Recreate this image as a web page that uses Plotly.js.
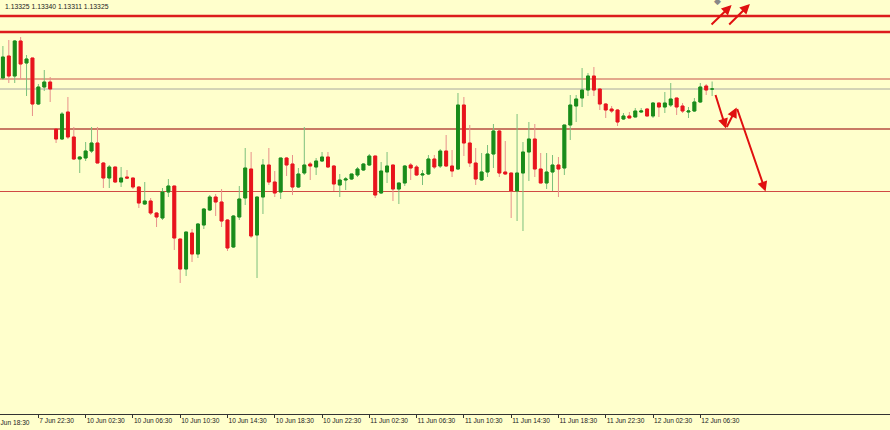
<!DOCTYPE html>
<html><head><meta charset="utf-8">
<script src="https://cdn.plot.ly/plotly-3.0.1.min.js"></script>
<style>html,body{margin:0;padding:0;background:#ffffcc;}#chart{width:890px;height:430px;}</style>
</head><body><div id="chart"></div>
<script>
// EURUSD M30 — prices
const opens = [1.13347,1.13391,1.13351,1.13421,1.13377,1.13387,1.13295,1.13329,1.13339,1.13245,
1.13225,1.13279,1.13229,1.13185,1.13187,1.13201,1.13217,1.13177,1.13147,1.13169,
1.13139,1.13149,1.13147,1.13129,1.13095,1.13101,1.13077,1.13067,1.13119,1.13131,
1.13025,1.12965,1.13037,1.12995,1.13053,1.13083,1.13109,1.13099,1.13063,1.13009,
1.13069,1.13107,1.13165,1.13033,1.13109,1.13173,1.13139,1.13119,1.13187,1.13175,
1.13129,1.13157,1.13175,1.13169,1.13181,1.13189,1.13171,1.13133,1.13143,1.13145,
1.13153,1.13163,1.13173,1.13191,1.13117,1.13159,1.13173,1.13125,1.13137,1.13173,
1.13169,1.13153,1.13155,1.13185,1.13171,1.13201,1.13171,1.13165,1.13293,1.13217,
1.13177,1.13143,1.13159,1.13195,1.13241,1.13159,1.13157,1.13121,1.13157,1.13199,
1.13225,1.13165,1.13137,1.13159,1.13173,1.13167,1.13253,1.13291,1.13307,1.13323,
1.13351,1.13325,1.13295,1.13285,1.13283,1.13265,1.13271,1.13269,1.13279,1.13285,
1.13271,1.13297,1.13289,1.13293,1.13307,1.13291,1.13279,1.13281,1.13299,1.13331,
1.13325];
const highs = [1.13411,1.13423,1.13423,1.13429,1.13393,1.13387,1.13335,1.13363,1.13349,1.13245,
1.13279,1.13309,1.13249,1.13191,1.13219,1.13249,1.13249,1.13179,1.13173,1.13169,
1.13169,1.13163,1.13147,1.13131,1.13139,1.13107,1.13079,1.13127,1.13145,1.13131,
1.13025,1.13039,1.13045,1.13057,1.13087,1.13113,1.13115,1.13125,1.13065,1.13073,
1.13131,1.13207,1.13199,1.13109,1.13185,1.13207,1.13161,1.13187,1.13189,1.13193,
1.13167,1.13249,1.13179,1.13187,1.13199,1.13199,1.13173,1.13155,1.13149,1.13155,
1.13169,1.13177,1.13195,1.13191,1.13179,1.13199,1.13173,1.13137,1.13173,1.13177,
1.13173,1.13163,1.13193,1.13193,1.13205,1.13233,1.13203,1.13317,1.13309,1.13253,
1.13207,1.13197,1.13213,1.13255,1.13243,1.13221,1.13157,1.13275,1.13219,1.13259,
1.13255,1.13197,1.13197,1.13193,1.13189,1.13253,1.13313,1.13313,1.13367,1.13357,
1.13369,1.13325,1.13297,1.13291,1.13285,1.13277,1.13279,1.13287,1.13287,1.13287,
1.13299,1.13297,1.13319,1.13337,1.13307,1.13297,1.13289,1.13307,1.13337,1.13335,
1.13340];
const lows = [1.13343,1.13337,1.13337,1.13345,1.13311,1.13271,1.13293,1.13321,1.13299,1.13217,
1.13223,1.13225,1.13183,1.13157,1.13181,1.13197,1.13177,1.13127,1.13127,1.13137,
1.13129,1.13145,1.13125,1.13087,1.13093,1.13073,1.13049,1.13063,1.13109,1.13003,
1.12937,1.12951,1.12979,1.12987,1.13045,1.13081,1.13071,1.13049,1.13001,1.13007,
1.13063,1.13093,1.13027,1.12947,1.13075,1.13133,1.13109,1.13105,1.13151,1.13113,
1.13127,1.13153,1.13143,1.13153,1.13179,1.13167,1.13121,1.13109,1.13123,1.13143,
1.13149,1.13161,1.13171,1.13107,1.13115,1.13137,1.13101,1.13095,1.13131,1.13143,
1.13151,1.13133,1.13153,1.13165,1.13167,1.13169,1.13149,1.13163,1.13191,1.13169,
1.13133,1.13141,1.13149,1.13167,1.13149,1.13153,1.13067,1.13061,1.13041,1.13141,
1.13149,1.13137,1.13125,1.13121,1.13109,1.13153,1.13223,1.13259,1.13289,1.13311,
1.13311,1.13283,1.13267,1.13277,1.13251,1.13263,1.13267,1.13269,1.13277,1.13271,
1.13267,1.13269,1.13277,1.13289,1.13273,1.13277,1.13267,1.13279,1.13297,1.13313,
1.13311];
const closes = [1.13389,1.13351,1.13421,1.13375,1.13385,1.13295,1.13329,1.13339,1.13325,1.13225,
1.13275,1.13229,1.13185,1.13189,1.13201,1.13217,1.13177,1.13147,1.13169,1.13139,
1.13147,1.13147,1.13129,1.13097,1.13101,1.13077,1.13069,1.13119,1.13131,1.13027,
1.12965,1.13039,1.12995,1.13055,1.13085,1.13109,1.13099,1.13061,1.13007,1.13071,
1.13105,1.13167,1.13031,1.13109,1.13173,1.13139,1.13117,1.13187,1.13173,1.13129,
1.13155,1.13173,1.13171,1.13181,1.13189,1.13169,1.13135,1.13143,1.13145,1.13155,
1.13165,1.13175,1.13191,1.13113,1.13161,1.13171,1.13125,1.13137,1.13171,1.13167,
1.13153,1.13155,1.13185,1.13169,1.13201,1.13171,1.13161,1.13293,1.13217,1.13177,
1.13145,1.13159,1.13195,1.13241,1.13157,1.13155,1.13121,1.13157,1.13199,1.13225,
1.13165,1.13137,1.13159,1.13173,1.13165,1.13253,1.13293,1.13305,1.13323,1.13351,
1.13323,1.13295,1.13283,1.13281,1.13259,1.13271,1.13267,1.13281,1.13281,1.13271,
1.13297,1.13289,1.13297,1.13305,1.13289,1.13281,1.13281,1.13299,1.13329,1.13323,
1.13325];

const tickLabels = ["7 Jun 22:30","10 Jun 02:30","10 Jun 06:30","10 Jun 10:30","10 Jun 14:30",
"10 Jun 18:30","10 Jun 22:30","11 Jun 02:30","11 Jun 06:30","11 Jun 10:30","11 Jun 14:30",
"11 Jun 18:30","11 Jun 22:30","12 Jun 02:30","12 Jun 06:30"];
const firstLabel = "7 Jun 18:30";

// horizontal levels drawn on the chart
const levelPrices = [1.13471, 1.13439, 1.13345, 1.13245, 1.13120];
const bidPrice = closes[closes.length - 1];

// bar times: Friday 7 Jun 19:30 .. 23:30, then Monday 10 Jun 00:00 onward (30-minute bars)
function barTime(i) {
  let d, mins;
  if (i <= 8) { d = 7; mins = 19 * 60 + 30 + 30 * i; }
  else { d = 10; mins = 30 * (i - 9); }
  d += Math.floor(mins / 1440); mins = mins % 1440;
  const hh = String(Math.floor(mins / 60)).padStart(2, '0');
  const mm = String(mins % 60).padStart(2, '0');
  return d + ' Jun ' + hh + ':' + mm;
}
const times = opens.map((_, i) => barTime(i));
const bodyHi = opens.map((o, i) => Math.max(o, closes[i]));
const bodyLo = opens.map((o, i) => Math.min(o, closes[i]));

const BG = '#ffffcc';
const FONT = 'Liberation Sans, Arial, sans-serif';
const wicks = {
  type: 'candlestick', x: times, open: opens, high: highs, low: lows, close: closes,
  increasing: {line: {color: '#7cc07c', width: 1}, fillcolor: '#7cc07c'},
  decreasing: {line: {color: '#e8908a', width: 1}, fillcolor: '#e8908a'},
  whiskerwidth: 0, hoverinfo: 'skip', showlegend: false
};
const bodies = {
  type: 'candlestick', x: times, open: opens, high: bodyHi, low: bodyLo, close: closes,
  increasing: {line: {color: '#1a8c1a', width: 1}, fillcolor: '#1a8c1a'},
  decreasing: {line: {color: '#e8141c', width: 1}, fillcolor: '#e8141c'},
  whiskerwidth: 0, hoverinfo: 'skip', showlegend: false
};

const levelStyles = [
  {color: '#dc1c1c', width: 2.5},
  {color: '#dc1c1c', width: 2.5},
  {color: '#c8524a', width: 1.2},
  {color: '#c87a64', width: 2},
  {color: '#d04a44', width: 1.2}
];
const shapes = levelPrices.map((p, i) => ({
  type: 'line', xref: 'paper', x0: 0, x1: 1, yref: 'y', y0: p, y1: p,
  line: {color: levelStyles[i].color, width: levelStyles[i].width}, layer: 'below'
}));
shapes.push({type: 'line', xref: 'paper', x0: 0, x1: 1, yref: 'y', y0: bidPrice, y1: bidPrice,
  line: {color: '#a8a8a0', width: 1}, layer: 'below'});

// analyst arrows: [tailX, tailY, headX, headY] in bar-index / price units
const arrowSegs = [
  [120.5, 1.13316, 122.35, 1.13246],
  [122.35, 1.13246, 124.16, 1.13288],
  [124.16, 1.13288, 129.05, 1.13120],
  [119.65, 1.13451, 123.3, 1.13493],
  [122.64, 1.13451, 126.4, 1.13495]
];
const annotations = arrowSegs.map(s => ({
  xref: 'x', yref: 'y', axref: 'x', ayref: 'y', x: s[2], y: s[3], ax: s[0], ay: s[1],
  text: '', showarrow: true, arrowhead: 2, arrowsize: 1, arrowwidth: 2, arrowcolor: '#e01010', standoff: 0
}));
annotations.push({
  xref: 'paper', yref: 'paper', x: 3 / 890, y: 1, xanchor: 'left', yanchor: 'top', yshift: -1,
  text: [opens, highs, lows, closes].map(a => a[a.length - 1].toFixed(5)).join(' '),
  showarrow: false, font: {family: FONT, size: 6.8, color: '#222'}
});
annotations.push({
  xref: 'paper', yref: 'paper', x: -7 / 890, y: 0, xanchor: 'left', yanchor: 'top', yshift: -3,
  text: firstLabel, showarrow: false, font: {family: FONT, size: 6.6, color: '#222'}
});
annotations.push({
  xref: 'x', yref: 'y', x: 120.9, y: 1.13502, text: '◆', showarrow: false,
  font: {size: 9, color: '#888'}
});

const layout = {
  width: 890, height: 430, margin: {l: 0, r: 0, t: 0, b: 16, pad: 0},
  paper_bgcolor: BG, plot_bgcolor: BG, showlegend: false,
  xaxis: {
    type: 'category', range: [-0.49, 150.1], rangeslider: {visible: false},
    tickvals: tickLabels, ticktext: tickLabels, ticklabelposition: 'outside right', tickangle: 0,
    ticks: 'outside', ticklen: 3, tickcolor: '#333', tickwidth: 1,
    showline: true, linecolor: '#333', linewidth: 1, mirror: true,
    showgrid: false, zeroline: false, fixedrange: true,
    tickfont: {family: FONT, size: 6.6, color: '#222'}
  },
  yaxis: {range: [1.12675, 1.13503], showgrid: false, zeroline: false, showticklabels: false,
    ticks: '', showline: false, fixedrange: true},
  shapes: shapes, annotations: annotations
};
Plotly.newPlot('chart', [wicks, bodies], layout, {staticPlot: true, displayModeBar: false});
</script></body></html>
